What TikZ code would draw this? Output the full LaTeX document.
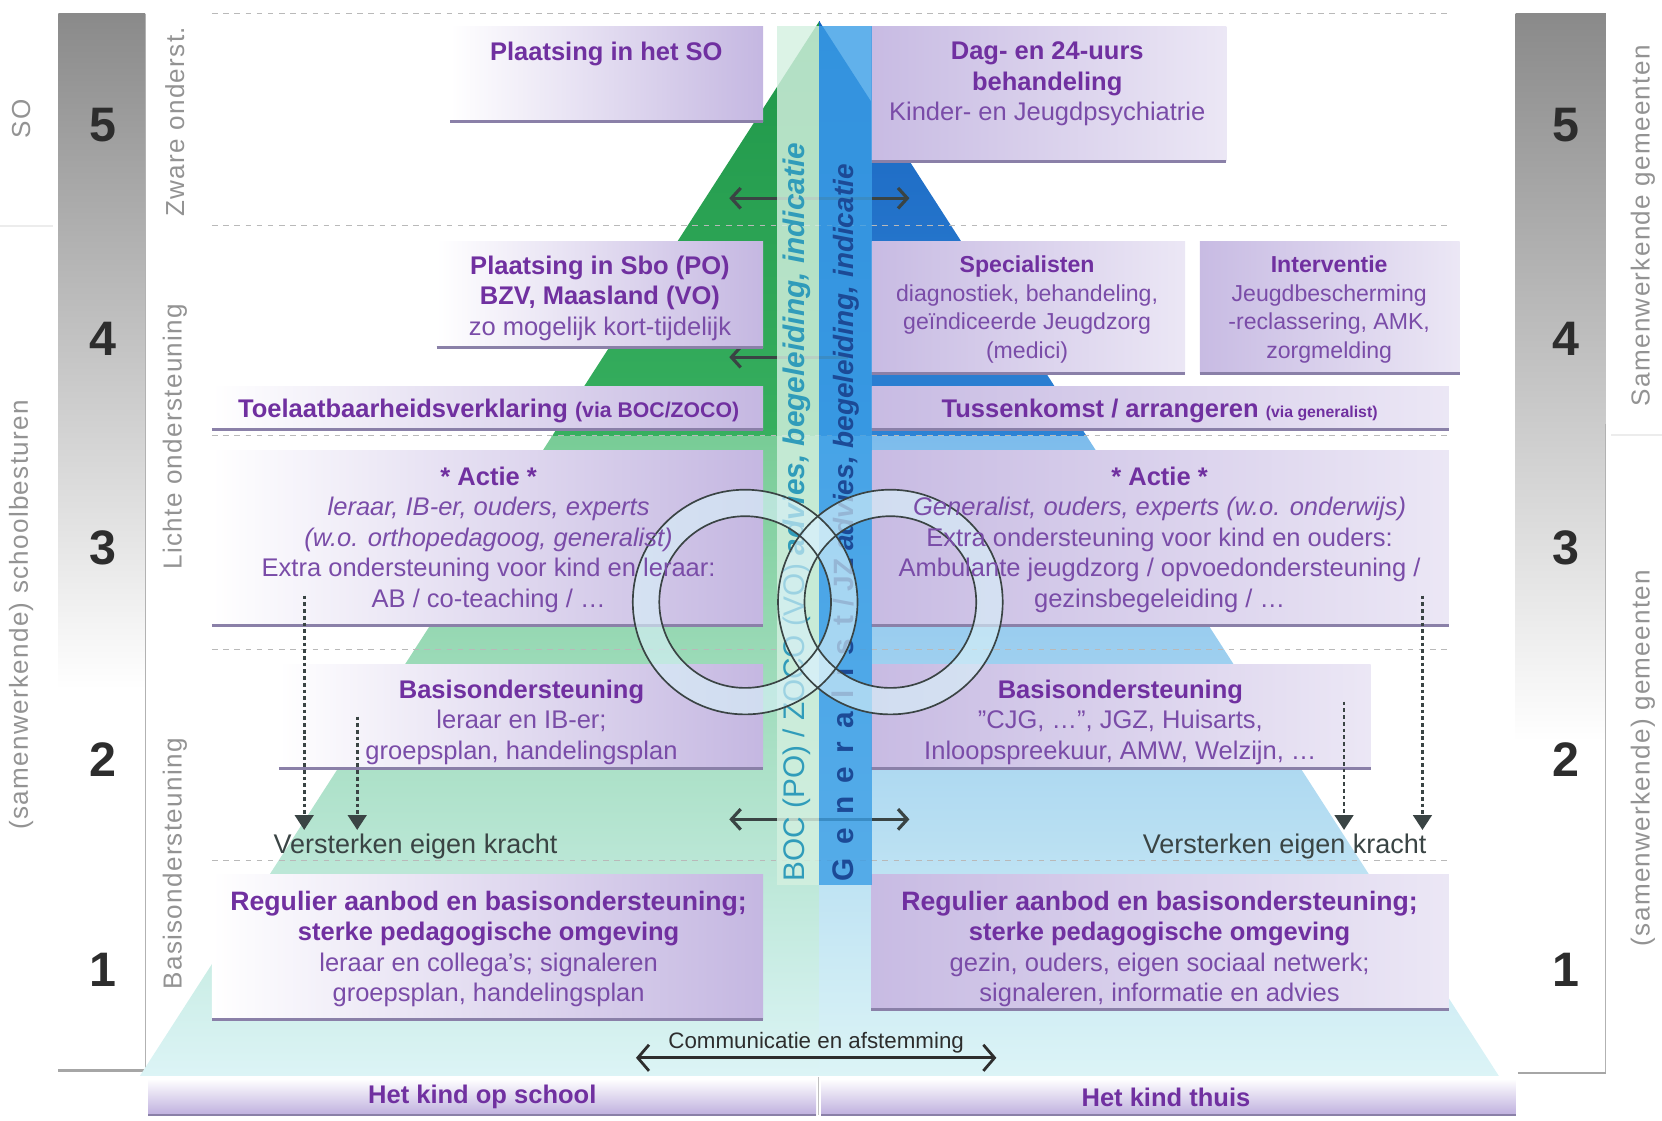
\documentclass[tikz,border=0pt]{standalone}
\usepackage{fontspec}
\setmainfont{Liberation Sans}
\newfontfamily\thinsans[LetterSpace=5]{Liberation Sans}
\usetikzlibrary{arrows.meta,calc}
\definecolor{tpurple}{RGB}{112,48,160}
\definecolor{rpurple}{RGB}{122,76,168}
\definecolor{lav}{RGB}{190,175,222}
\definecolor{lavedge}{RGB}{138,128,168}
\definecolor{dgray}{RGB}{58,68,68}
\definecolor{numgray}{RGB}{45,45,45}
\definecolor{barg}{RGB}{138,138,138}
\definecolor{barmid}{RGB}{170,170,170}
\definecolor{pgreen}{RGB}{30,150,72}
\definecolor{pgreenb}{RGB}{55,175,95}
\definecolor{pgreenc}{RGB}{120,204,150}
\definecolor{pblue}{RGB}{25,100,192}
\definecolor{pblueb}{RGB}{45,130,212}
\definecolor{pbluec}{RGB}{125,188,236}
\definecolor{palecyan}{RGB}{220,244,246}
\definecolor{mint}{RGB}{212,240,224}
\definecolor{bandblue}{RGB}{58,158,230}
\definecolor{bocteal}{RGB}{48,156,186}
\definecolor{genblue}{RGB}{28,74,150}
\definecolor{ringcyan}{RGB}{215,240,248}
\newcommand{\rg}[1]{\textcolor{rpurple}{#1}}

\begin{document}
\begin{tikzpicture}[x=0.02cm, y=-0.02cm, >=Stealth,
    divider/.style={gray!55, line width=0.6pt, dash pattern=on 3pt off 3pt},
    boxL/.style={left color=white, right color=lav!90},
    boxR/.style={left color=lav!85, right color=lav!30},
    boxedge/.style={lavedge, line width=1.6pt},
    boxtxt/.style={align=center, anchor=north, inner sep=0pt, text=tpurple, font=\fontsize{13.7}{16.4}\selectfont},
    harrow/.style={draw=dgray, line width=1.7pt, -{Straight Barb[length=5pt,width=11pt]}},
    dotarrow/.style={draw=dgray, line width=1.5pt, dash pattern=on 2pt off 1.6pt, -{Triangle[length=8pt,width=10pt]}},
    numlbl/.style={font=\bfseries\fontsize{26}{26}\selectfont, text=numgray},
    sidelbl/.style={rotate=90, font=\thinsans\fontsize{14}{14}\selectfont, text=gray!85},
    kracht/.style={font=\fontsize{14.5}{15}\selectfont, text=dgray}]

    \useasboundingbox (0,0) rectangle (1568,1057);

    % grijze balken links en rechts
    \shade[top color=barg, middle color=barmid, bottom color=white] (55,13) rectangle (137,650);
    \draw[gray!60, line width=0.5pt] (137,13) -- (137,1010);
    \draw[gray!70, line width=1.2pt] (55,1010) -- (137,1010);
    \shade[top color=barg, middle color=barmid, bottom color=white] (1430,13) rectangle (1515,700);
    \draw[gray!60, line width=0.5pt] (1515,400) -- (1515,1012);
    \draw[gray!70, line width=1.2pt] (1432,1012) -- (1515,1012);
    \draw[gray!15, line width=1pt] (0,213) -- (50,213);
    \draw[gray!15, line width=1pt] (1520,410) -- (1568,410);

    \foreach \n/\yy in {5/118,4/320,3/517,2/717,1/915} {
        \node[numlbl] (numL\n) at (97,\yy) {\n};
        \node[numlbl] (numR\n) at (1477,\yy) {\n};
    }

    \node[sidelbl] (soL) at (20,112) {SO};
    \node[sidelbl] (bestL) at (20,580) {(samenwerkende) schoolbesturen};
    \node[sidelbl] (zwaar) at (165,115) {Zware onderst.};
    \node[sidelbl] (licht) at (165,412) {Lichte ondersteuning};
    \node[sidelbl] (basis) at (165,815) {Basisondersteuning};
    \node[sidelbl] (gemR) at (1550,213) {Samenwerkende gemeenten};
    \node[sidelbl] (gem2R) at (1550,715) {(samenwerkende) gemeenten};

    % piramide
    \coordinate (apex) at (773,20);
    \coordinate (baseL) at (132,1015);
    \coordinate (baseM) at (773,1015);
    \coordinate (baseR) at (1414,1015);
    \begin{scope}
        \clip (apex) -- (baseL) -- (baseM) -- cycle;
        \shade[top color=pgreen, bottom color=pgreenb] (100,15) rectangle (773,412);
        \shade[top color=pgreenc, bottom color=palecyan] (100,412) rectangle (773,1016);
    \end{scope}
    \begin{scope}
        \clip (apex) -- (baseR) -- (baseM) -- cycle;
        \shade[top color=pblue, bottom color=pblueb] (773,15) rectangle (1450,412);
        \shade[top color=pbluec, bottom color=palecyan] (773,412) rectangle (1450,1016);
    \end{scope}

    \foreach \yy in {13,213,411,613,812}
        \draw[divider] (200,\yy) -- (1368,\yy);

    % horizontale pijlen
    \coordinate (m5) at (773,187); \coordinate (l5) at (688,187); \coordinate (r5) at (858,187);
    \coordinate (m4) at (800,337); \coordinate (l4) at (688,337);
    \coordinate (m2) at (773,773); \coordinate (l2) at (688,773); \coordinate (r2) at (858,773);
    \draw[harrow] (m5) -- (l5);
    \draw[harrow] (m5) -- (r5);
    \draw[harrow] (m4) -- (l4);
    \draw[harrow] (m2) -- (l2);
    \draw[harrow] (m2) -- (r2);

    % blokken
    \path[boxL] (425,25) rectangle (720,115);
    \draw[boxedge] (425,115) -- (720,115);
    \path[boxR] (822,25) rectangle (1157,152);
    \draw[boxedge] (822,152) -- (1157,152);
    \path[boxL] (412,228) rectangle (720,328);
    \draw[boxedge] (412,328) -- (720,328);
    \path[boxR] (822,228) rectangle (1118,352);
    \draw[boxedge] (822,352) -- (1118,352);
    \path[boxR] (1132,228) rectangle (1377,352);
    \draw[boxedge] (1132,352) -- (1377,352);
    \path[boxL] (200,365) rectangle (720,405);
    \draw[boxedge] (200,405) -- (720,405);
    \path[boxR] (822,365) rectangle (1367,405);
    \draw[boxedge] (822,405) -- (1367,405);
    \path[boxL] (200,425) rectangle (720,590);
    \draw[boxedge] (200,590) -- (720,590);
    \path[boxR] (822,425) rectangle (1367,590);
    \draw[boxedge] (822,590) -- (1367,590);
    \path[boxL] (263,627) rectangle (720,725);
    \draw[boxedge] (263,725) -- (720,725);
    \path[boxR] (822,627) rectangle (1293,725);
    \draw[boxedge] (822,725) -- (1293,725);
    \path[boxL] (200,825) rectangle (720,962);
    \draw[boxedge] (200,962) -- (720,962);
    \path[boxR] (822,825) rectangle (1367,952);
    \draw[boxedge] (822,952) -- (1367,952);
    \path[top color=white, bottom color=lav] (140,1018) rectangle (770,1052);
    \path[top color=white, bottom color=lav] (775,1018) rectangle (1430,1052);
    \draw[lavedge, line width=0.8pt] (140,1052) -- (770,1052);
    \draw[lavedge, line width=0.8pt] (775,1052) -- (1430,1052);
    \draw[gray!50, line width=0.5pt] (772,1016) -- (772,1052);

    % verticale banden
    \fill[mint, opacity=0.82] (733,25) rectangle (773,835);
    \fill[bandblue, opacity=0.8] (773,25) rectangle (823,835);

    \node[rotate=90, anchor=west, inner sep=0pt, text=bocteal, font=\fontsize{16}{16}\selectfont] (boc) at (752,832)
        {BOC (PO) / ZOCO (VO) \textbf{\textit{advies, begeleiding, indicatie}}};
    \node[rotate=90, anchor=west, inner sep=0pt, text=genblue, font=\bfseries\fontsize{16}{16}\selectfont] (gen) at (798,832)
        {{\addfontfeature{LetterSpace=45}Generalist} {\fontsize{15}{15}\selectfont / JZ \textit{advies, begeleiding, indicatie}}};

    % cirkels
    \coordinate (cirL) at (703,568);
    \coordinate (cirR) at (840,568);
    \fill[ringcyan, opacity=0.65, even odd rule] (cirL) circle (106) (cirL) circle (81);
    \fill[ringcyan, opacity=0.65, even odd rule] (cirR) circle (106) (cirR) circle (81);
    \draw[dgray, line width=0.9pt] (cirL) circle (106) (cirL) circle (81);
    \draw[dgray, line width=0.9pt] (cirR) circle (106) (cirR) circle (81);

    % teksten
    \node[boxtxt] (tSO) at (572,39) {\textbf{Plaatsing in het SO}};
    \node[boxtxt] (tDag) at (988,39) {\textbf{Dag- en 24-uurs}\\ \textbf{behandeling}\\ \rg{Kinder- en Jeugdpsychiatrie}};
    \node[boxtxt] (tSbo) at (566,241) {\textbf{Plaatsing in Sbo (PO)}\\ \textbf{BZV, Maasland (VO)}\\ \rg{zo mogelijk kort-tijdelijk}};
    \node[boxtxt, font=\fontsize{12.4}{15.3}\selectfont] (tSpec) at (969,241) {\textbf{Specialisten}\\ \rg{diagnostiek, behandeling,}\\ \rg{geïndiceerde Jeugdzorg}\\ \rg{(medici)}};
    \node[boxtxt, font=\fontsize{12.4}{15.3}\selectfont] (tInt) at (1254,241) {\textbf{Interventie}\\ \rg{Jeugdbescherming}\\ \rg{-reclassering, AMK,}\\ \rg{zorgmelding}};
    \node[boxtxt, anchor=center] (tToel) at (461,388) {\textbf{Toelaatbaarheidsverklaring} {\bfseries\fontsize{11.4}{11}\selectfont(via BOC/ZOCO)}};
    \node[boxtxt, anchor=center] (tTuss) at (1094,388) {\textbf{Tussenkomst / arrangeren} {\bfseries\fontsize{8.5}{8}\selectfont(via generalist)}};
    \node[boxtxt] (tActL) at (461,440) {\textbf{* Actie *}\\ \rg{\textit{leraar, IB-er, ouders, experts}}\\ \rg{\textit{(w.o. orthopedagoog, generalist)}}\\ \rg{Extra ondersteuning voor kind en leraar:}\\ \rg{AB / co-teaching / \dots}};
    \node[boxtxt] (tActR) at (1094,440) {\textbf{* Actie *}\\ \rg{\textit{Generalist, ouders, experts (w.o. onderwijs)}}\\ \rg{Extra ondersteuning voor kind en ouders:}\\ \rg{Ambulante jeugdzorg / opvoedondersteuning /}\\ \rg{gezinsbegeleiding / \dots}};
    \node[boxtxt] (tBasL) at (492,641) {\textbf{Basisondersteuning}\\ \rg{leraar en IB-er;}\\ \rg{groepsplan, handelingsplan}};
    \node[boxtxt] (tBasR) at (1057,641) {\textbf{Basisondersteuning}\\ \rg{"CJG, \dots", JGZ, Huisarts,}\\ \rg{Inloopspreekuur, AMW, Welzijn, \dots}};
    \node[boxtxt] (tRegL) at (461,840) {{\fontsize{14.3}{16}\selectfont\bfseries Regulier aanbod en basisondersteuning;}\\ \textbf{sterke pedagogische omgeving}\\ \rg{leraar en collega's; signaleren}\\ \rg{groepsplan, handelingsplan}};
    \node[boxtxt] (tRegR) at (1094,840) {{\fontsize{14.3}{16}\selectfont\bfseries Regulier aanbod en basisondersteuning;}\\ \textbf{sterke pedagogische omgeving}\\ \rg{gezin, ouders, eigen sociaal netwerk;}\\ \rg{signaleren, informatie en advies}};
    \node[boxtxt, anchor=center] (tSchool) at (455,1035) {\textbf{Het kind op school}};
    \node[boxtxt, anchor=center] (tThuis) at (1100,1035) {\textbf{Het kind thuis}};

    % versterken eigen kracht
    \node[kracht] (krL) at (392,799) {Versterken eigen kracht};
    \node[kracht] (krR) at (1212,799) {Versterken eigen kracht};
    \coordinate (dL1s) at (287,562); \coordinate (dL1e) at (287,783);
    \coordinate (dL2s) at (337,676); \coordinate (dL2e) at (337,783);
    \coordinate (dR1s) at (1268,662); \coordinate (dR1e) at (1268,783);
    \coordinate (dR2s) at (1342,562); \coordinate (dR2e) at (1342,783);
    \draw[dotarrow] (dL1s) -- (dL1e);
    \draw[dotarrow] (dL2s) -- (dL2e);
    \draw[dotarrow] (dR1s) -- (dR1e);
    \draw[dotarrow] (dR2s) -- (dR2e);

    % communicatie
    \node[font=\fontsize{12}{12}\selectfont, text=numgray] (comm) at (770,984) {Communicatie en afstemming};
    \coordinate (commL) at (600,998);
    \coordinate (commR) at (940,998);
    \draw[draw=numgray, line width=1.5pt, {Straight Barb[length=6pt,width=14pt]}-{Straight Barb[length=6pt,width=14pt]}] (commL) -- (commR);

\end{tikzpicture}
\end{document}
